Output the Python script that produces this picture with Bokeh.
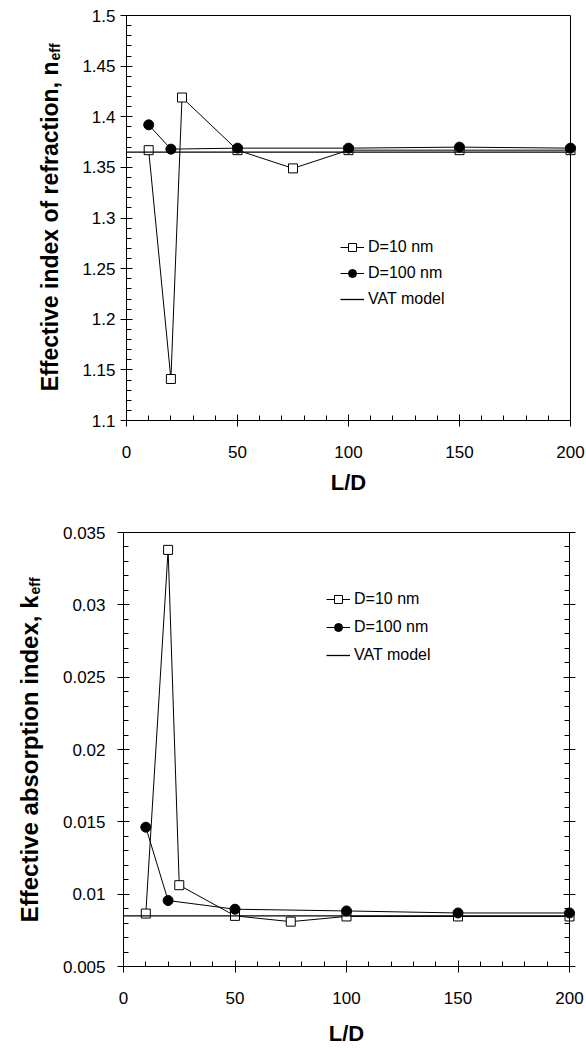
import numpy as np
from math import pi
from bokeh.plotting import figure
from bokeh.layouts import column
from bokeh.models import Range1d, FixedTicker, LinearAxis, Label, Legend, LegendItem
from bokeh.embed import file_html
from bokeh.resources import INLINE

# ---------------- data ----------------
ld_10 = [10, 20, 25, 50, 75, 100, 150, 200]
n_10 = [1.367, 1.141, 1.419, 1.367, 1.349, 1.367, 1.367, 1.367]
ld_100 = [10, 20, 50, 100, 150, 200]
n_100 = [1.392, 1.368, 1.369, 1.369, 1.370, 1.369]
vat_ld = [0, 200]
n_vat = [1.365, 1.365]

k_10 = [0.00866, 0.0338, 0.01062, 0.0085, 0.0081, 0.00846, 0.00846, 0.00846]
k_100 = [0.01463, 0.00956, 0.00896, 0.00884, 0.0087, 0.0087]
k_vat = [0.0085, 0.0085]

series_labels = ["D=10 nm", "D=100 nm", "VAT model"]

x_ticks = [0, 50, 100, 150, 200]
n_ticks = [1.1, 1.15, 1.2, 1.25, 1.3, 1.35, 1.4, 1.45, 1.5]
n_tick_labels = ["1.1", "1.15", "1.2", "1.25", "1.3", "1.35", "1.4", "1.45", "1.5"]
k_ticks = [0.005, 0.01, 0.015, 0.02, 0.025, 0.03, 0.035]
k_tick_labels = ["0.005", "0.01", "0.015", "0.02", "0.025", "0.03", "0.035"]

x_label = "L/D"
n_label = "Effective index of refraction, n"
k_label = "Effective absorption index, k"
sub_label = "eff"

FONT = "Liberation Sans"


def style_axis(ax, labels=True, standoff=5, ticks=True):
    ax.axis_line_color = "black"
    ax.axis_line_width = 1
    ax.major_tick_line_color = "black"
    ax.minor_tick_line_color = "black"
    ax.major_tick_in = 6 if ticks else 0
    ax.major_tick_out = 6 if ticks else 0
    ax.minor_tick_in = 5 if ticks else 0
    ax.minor_tick_out = 0
    ax.major_label_text_font = FONT
    if labels:
        ax.major_label_text_font_size = "17px"
        ax.major_label_text_color = "black"
    else:
        ax.major_label_text_font_size = "1px"
        ax.major_label_text_color = None
    ax.major_label_standoff = standoff


def make_panel(y10, y100, yvat, yr, yticks, ytick_labels, ylab,
               pad_l, plot_w, pad_r, pad_t, plot_h, pad_b,
               leg_loc, leg_spacing, right_ticks, ystandoff,
               ylab_pos, ylab_size, xlab_pos):
    # The frame covers the whole figure; the visible box is drawn by four
    # axes pinned at the data limits, so all titles sit inside the frame.
    px_per_x = plot_w / 200.0
    px_per_y = plot_h / (yr[1] - yr[0])
    x_rng = Range1d(-pad_l / px_per_x, 200 + pad_r / px_per_x)
    y_rng = Range1d(yr[0] - pad_b / px_per_y, yr[1] + pad_t / px_per_y)
    p = figure(frame_width=pad_l + plot_w + pad_r,
               frame_height=pad_t + plot_h + pad_b,
               x_range=x_rng, y_range=y_rng,
               output_backend="svg", toolbar_location=None,
               min_border_left=0, min_border_right=0,
               min_border_top=0, min_border_bottom=0,
               background_fill_color="white", border_fill_color="white")
    p.grid.visible = False
    p.outline_line_color = None

    xt = FixedTicker(ticks=x_ticks, minor_ticks=list(np.arange(0, 201, 10)))
    ymin = list(np.round(np.linspace(yr[0], yr[1], (len(yticks) - 1) * 5 + 1), 6))
    yt = FixedTicker(ticks=yticks, minor_ticks=ymin)

    xa = p.xaxis[0]
    xa.ticker = xt
    xa.fixed_location = yr[0]
    xa.bounds = (0, 200)
    style_axis(xa, standoff=19)

    ya = p.yaxis[0]
    ya.ticker = yt
    ya.fixed_location = 0
    ya.bounds = yr
    ya.major_label_overrides = {t: s for t, s in zip(yticks, ytick_labels)}
    style_axis(ya, standoff=ystandoff)

    ta = LinearAxis(ticker=xt, bounds=(0, 200), fixed_location=yr[1])
    style_axis(ta, labels=False, standoff=0, ticks=False)
    p.add_layout(ta, "above")

    ra = LinearAxis(ticker=yt, bounds=yr, fixed_location=200)
    style_axis(ra, labels=False, standoff=0, ticks=right_ticks)
    p.add_layout(ra, "right")

    l1 = p.line(ld_10, y10, line_color="black", line_width=1)
    s1 = p.scatter(ld_10, y10, marker="square", size=9,
                   fill_color="white", line_color="black", line_width=1)
    l2 = p.line(ld_100, y100, line_color="black", line_width=1)
    s2 = p.scatter(ld_100, y100, marker="circle", size=10,
                   fill_color="black", line_color="black")
    l3 = p.line(vat_ld, yvat, line_color="black", line_width=1.3)

    legend = Legend(items=[
        LegendItem(label=series_labels[0], renderers=[l1, s1]),
        LegendItem(label=series_labels[1], renderers=[l2, s2]),
        LegendItem(label=series_labels[2], renderers=[l3]),
    ], location=leg_loc)
    legend.border_line_color = None
    legend.background_fill_alpha = 0
    legend.padding = 0
    legend.margin = 0
    legend.spacing = leg_spacing
    legend.glyph_width = 24
    legend.glyph_height = 20
    legend.label_height = 20
    legend.label_standoff = 4
    legend.label_text_font = FONT
    legend.label_text_font_size = "16px"
    legend.label_text_color = "black"
    p.add_layout(legend)

    # y-axis title with subscript
    lx, ly = ylab_pos
    p.add_layout(Label(x=lx, y=ly, x_units="screen", y_units="screen",
                       text=ylab, angle=pi / 2, text_align="right",
                       text_baseline="alphabetic", text_font=FONT,
                       text_font_style="bold", text_font_size=ylab_size,
                       text_color="black"))
    p.add_layout(Label(x=lx + 5, y=ly + 1, x_units="screen", y_units="screen",
                       text=sub_label, angle=pi / 2, text_align="left",
                       text_baseline="alphabetic", text_font=FONT,
                       text_font_style="bold", text_font_size="14px",
                       text_color="black"))
    # x-axis title
    p.add_layout(Label(x=xlab_pos[0], y=xlab_pos[1], x_units="screen",
                       y_units="screen", text=x_label, text_align="center",
                       text_baseline="middle", text_font=FONT,
                       text_font_style="bold", text_font_size="22px",
                       text_color="black"))
    return p


p1 = make_panel(n_10, n_100, n_vat, (1.1, 1.5), n_ticks, n_tick_labels, n_label,
                126, 444, 16, 15, 405, 90,
                (340, 201), 6, False, 5, (49, 449), "23px", (348, 28))
p2 = make_panel(k_10, k_100, k_vat, (0.005, 0.035), k_ticks, k_tick_labels, k_label,
                123, 446, 17, 22, 434, 80,
                (326, 381), 8, True, 12, (29, 451), "24px", (346, 13))

layout = column(p1, p2, spacing=0)
open("out.html", "w").write(file_html(layout, INLINE))
